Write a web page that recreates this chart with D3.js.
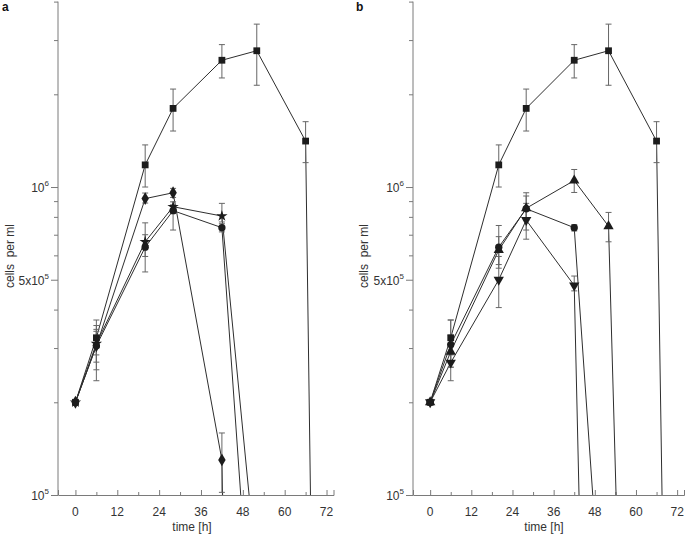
<!DOCTYPE html>
<html><head><meta charset="utf-8">
<script src="https://cdn.jsdelivr.net/npm/d3@7/dist/d3.min.js"></script>
<style>
body{margin:0;background:#fff;}
svg{display:block;font-family:"Liberation Sans",Arial,sans-serif;}
</style></head>
<body>
<svg id="chart" width="685" height="537"></svg>
<script>
// ---------- data ----------
const xTicks = [0, 12, 24, 36, 48, 60, 72];
const xMinorTicks = [6, 18, 30, 42, 54, 66];
const yTicks = [1e5, 2e5, 3e5, 4e5, 5e5, 6e5, 7e5, 8e5, 9e5, 1e6, 2e6, 3e6, 4e6];
const yLabelTicks = [1e5, 5e5, 1e6];

// panel a  (0 = dropped below detection)
const aSquareT = [0, 6, 20, 28, 42, 52, 66, 67.4];
const aSquareV = [2e5, 3.24e5, 1.18e6, 1.80e6, 2.58e6, 2.77e6, 1.41e6, 0];
const aSquareHi = [2e5, 3.7e5, 1.37e6, 2.08e6, 2.9e6, 3.38e6, 1.63e6];
const aSquareLo = [2e5, 2.85e5, 1.0e6, 1.52e6, 2.26e6, 2.14e6, 1.2e6];

const aDiamondT = [0, 6, 20, 28, 42, 42.2];
const aDiamondV = [2e5, 3.05e5, 9.17e5, 9.58e5, 1.3e5, 0];
const aDiamondHi = [2e5, 3.45e5, 9.56e5, 9.9e5, 1.59e5];
const aDiamondLo = [2e5, 2.7e5, 8.87e5, 9.25e5, 1.02e5];

const aStarT = [0, 6, 20, 28, 42, 49.8];
const aStarV = [2e5, 3.1e5, 6.64e5, 8.63e5, 8.05e5, 0];
const aStarHi = [2e5, 3.55e5, 7.65e5, 8.95e5, 8.85e5];
const aStarLo = [2e5, 2.55e5, 5.95e5, 8.2e5, 7.7e5];

const aCircleT = [0, 6, 20, 28, 42, 47.4];
const aCircleV = [2e5, 3.05e5, 6.38e5, 8.38e5, 7.38e5, 0];
const aCircleHi = [2e5, 3.4e5, 7.0e5, 8.75e5, 7.6e5];
const aCircleLo = [2e5, 2.35e5, 5.3e5, 7.25e5, 7.15e5];

// panel b
const bSquareT = [0, 6, 20, 28, 42, 52, 66, 67.6];
const bSquareV = [2e5, 3.24e5, 1.18e6, 1.80e6, 2.58e6, 2.77e6, 1.41e6, 0];
const bSquareHi = [2e5, 3.7e5, 1.37e6, 2.08e6, 2.9e6, 3.38e6, 1.63e6];
const bSquareLo = [2e5, 2.85e5, 1.0e6, 1.52e6, 2.26e6, 2.14e6, 1.2e6];

const bTriUpT = [0, 6, 20, 28, 42, 52, 54.2];
const bTriUpV = [2e5, 2.92e5, 6.24e5, 8.53e5, 1.05e6, 7.46e5, 0];
const bTriUpHi = [2e5, 3.3e5, 6.9e5, 9.35e5, 1.14e6, 8.27e5];
const bTriUpLo = [2e5, 2.6e5, 5.6e5, 7.8e5, 0.96e6, 6.64e5];

const bCircleT = [0, 6, 20, 28, 42, 47.4];
const bCircleV = [2e5, 3.08e5, 6.38e5, 8.5e5, 7.38e5, 0];
const bCircleHi = [2e5, 3.7e5, 7.5e5, 9.58e5, 7.55e5];
const bCircleLo = [2e5, 2.6e5, 5.45e5, 7.25e5, 7.2e5];

const bTriDownT = [0, 6, 20, 28, 42, 43.4];
const bTriDownV = [2e5, 2.69e5, 5.0e5, 7.81e5, 4.79e5, 0];
const bTriDownHi = [2e5, 2.9e5, 5.95e5, 8.85e5, 5.14e5];
const bTriDownLo = [2e5, 2.35e5, 4.06e5, 6.77e5, 4.6e5];

// ---------- drawing ----------
const svg = d3.select("#chart");
const FONT = 12;
const TXT = "#333";

function panel(cfg) {
  const x = d3.scaleLinear().domain([-5, 74]).range([cfg.x0, cfg.x1]);
  const y = d3.scaleLog().domain([1e5, 4e6]).range([495, 1.6]);
  const g = svg.append("g");
  const Y = v => v > 0 ? y(v) : y.range()[0];

  // y axis
  const yAx = g.append("g").attr("transform", `translate(${cfg.x0},0)`)
    .call(d3.axisLeft(y).tickValues(yTicks).tickFormat(() => "").tickSizeOuter(0)
      .tickSize(4));
  yAx.selectAll(".tick line").attr("x2", d => yLabelTicks.includes(d) ? -7 : -4);
  yAx.selectAll("line,path").attr("stroke", "#7a7a7a");
  yAx.select("path").attr("d", `M0,${y.range()[1]}V${y.range()[0]}`);

  // y labels with superscripts
  const lab = [
    {v: 1e5, pre: "10", sup: "5"},
    {v: 5e5, pre: "5x10", sup: "5"},
    {v: 1e6, pre: "10", sup: "6"}
  ];
  lab.forEach(l => {
    const t = g.append("text").attr("x", cfg.x0 - 9).attr("y", y(l.v) + 5)
      .attr("text-anchor", "end").attr("font-size", FONT).attr("fill", TXT);
    t.append("tspan").text(l.pre);
    t.append("tspan").attr("font-size", 8).attr("dy", -6).text(l.sup);
  });

  // x axis (ticks inside)
  const xAx = g.append("g").attr("transform", "translate(0,495)")
    .call(d3.axisTop(x).tickValues(xTicks.concat(xMinorTicks)).tickFormat(() => "").tickSizeOuter(0).tickSize(5));
  xAx.selectAll(".tick line").attr("y2", d => xTicks.includes(d) ? -5 : -3);
  xAx.selectAll("line,path").attr("stroke", "#7a7a7a");
  xTicks.forEach(t => {
    g.append("text").attr("x", x(t)).attr("y", 516).attr("text-anchor", "middle")
      .attr("font-size", FONT).attr("fill", TXT).text(t);
  });

  // axis titles
  g.append("text").attr("x", cfg.xLabelX).attr("y", 531).attr("text-anchor", "middle")
    .attr("font-size", FONT).attr("fill", TXT).text("time [h]");
  g.append("text").attr("transform", `translate(${cfg.yLabelX},256) rotate(-90)`)
    .attr("text-anchor", "middle").attr("font-size", FONT).attr("fill", TXT)
    .attr("xml:space", "preserve").style("white-space", "pre").text("cells  per ml");
  g.append("text").attr("x", cfg.letterX).attr("y", 11).attr("font-size", 12)
    .attr("font-weight", "bold").attr("fill", "#111").text(cfg.letter);

  const line = d3.line().x(d => x(d.t)).y(d => Y(d.v));

  cfg.series.forEach(s => {
    const pts = s.t.map((t, i) => ({t, v: s.v[i]}));
    g.append("path").datum(pts).attr("d", line).attr("fill", "none")
      .attr("stroke", "#2e2e2e").attr("stroke-width", 1);
  });
  cfg.series.forEach(s => {
    s.hi.forEach((h, i) => {
      const lo = s.lo[i];
      if (h === lo) return;
      const cx = x(s.t[i]);
      const eg = g.append("g").attr("stroke", "#666").attr("stroke-width", 1);
      eg.append("line").attr("x1", cx).attr("x2", cx).attr("y1", y(h)).attr("y2", y(lo));
      eg.append("line").attr("x1", cx - 3).attr("x2", cx + 3).attr("y1", y(h)).attr("y2", y(h));
      eg.append("line").attr("x1", cx - 3).attr("x2", cx + 3).attr("y1", y(lo)).attr("y2", y(lo));
    });
  });
  cfg.series.forEach(s => {
    const sym = d3.symbol().type(s.sym).size(s.size);
    s.t.forEach((t, i) => {
      if (!(s.v[i] > 0)) return;
      g.append("path").attr("d", sym())
        .attr("transform", `translate(${x(t)},${Y(s.v[i])}) rotate(${s.rot || 0})`)
        .attr("fill", "#1c1c1c");
    });
  });
}

panel({
  x0: 58, x1: 333.5, letter: "a", letterX: 2, xLabelX: 192, yLabelX: 14,
  series: [
    {t: aSquareT, v: aSquareV, hi: aSquareHi, lo: aSquareLo, sym: d3.symbolSquare, size: 46},
    {t: aDiamondT, v: aDiamondV, hi: aDiamondHi, lo: aDiamondLo, sym: d3.symbolDiamond, size: 48},
    {t: aStarT, v: aStarV, hi: aStarHi, lo: aStarLo, sym: d3.symbolStar, size: 40},
    {t: aCircleT, v: aCircleV, hi: aCircleHi, lo: aCircleLo, sym: d3.symbolCircle, size: 42}
  ]
});
panel({
  x0: 413, x1: 684, letter: "b", letterX: 356, xLabelX: 544, yLabelX: 368,
  series: [
    {t: bSquareT, v: bSquareV, hi: bSquareHi, lo: bSquareLo, sym: d3.symbolSquare, size: 46},
    {t: bTriUpT, v: bTriUpV, hi: bTriUpHi, lo: bTriUpLo, sym: d3.symbolTriangle, size: 46},
    {t: bCircleT, v: bCircleV, hi: bCircleHi, lo: bCircleLo, sym: d3.symbolCircle, size: 42},
    {t: bTriDownT, v: bTriDownV, hi: bTriDownHi, lo: bTriDownLo, sym: d3.symbolTriangle, size: 46, rot: 180}
  ]
});
</script>
</body></html>
